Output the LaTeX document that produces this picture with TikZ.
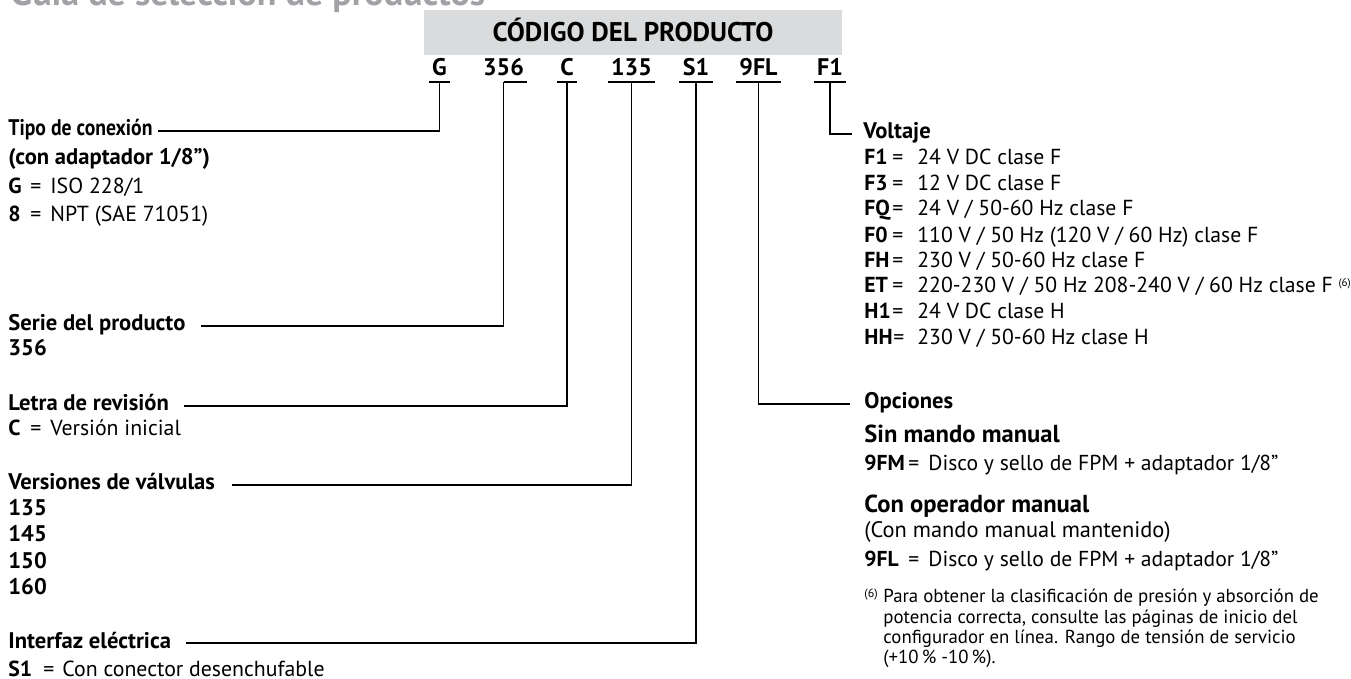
\documentclass[tikz,border=0pt]{standalone}
\usepackage{fontspec}
\setmainfont{PT Sans}
\newfontfamily\narrowfont{PT Sans}[FakeStretch=0.87]
\usepackage{xcolor}
\usepackage{tikz}
\usetikzlibrary{positioning}
\definecolor{titlegray}{HTML}{A0A2A5}
\definecolor{boxgray}{HTML}{D9DBDC}
% code, "=" and text at fixed offsets
\newcommand{\coditem}[4]{\rlap{\bfseries #3}\hspace{#1}\rlap{=}\hspace{#2}#4}
\tikzset{
  pagetitle/.style={
    anchor=base west, inner sep=0pt, text=titlegray,
    font=\bfseries\fontsize{18}{21}\selectfont
  },
  hdrbox/.style={
    rectangle, fill=boxgray, inner sep=0pt,
    minimum width=209pt, minimum height=22.5pt,
    text height=9pt, text depth=0pt,
    font=\bfseries\fontsize{13.5}{16}\selectfont
  },
  codepart/.style={
    anchor=base, inner xsep=1.5pt, inner ysep=3pt, text depth=0pt,
    font=\bfseries\fontsize{12}{14}\selectfont
  },
  heading/.style={
    anchor=base west, inner sep=0pt,
    font=\bfseries\fontsize{11.3}{13}\selectfont
  },
  item/.style={
    anchor=base west, inner sep=0pt,
    font=\fontsize{10.9}{13}\selectfont
  },
  vitem/.style={
    anchor=base west, inner sep=0pt,
    font=\fontsize{10.85}{12}\selectfont
  },
  oitem/.style={
    anchor=base west, inner sep=0pt,
    font=\fontsize{10.8}{13}\selectfont
  },
  note/.style={
    anchor=base west, inner sep=0pt,
    font=\fontsize{9.4}{11}\selectfont
  },
  line/.style={draw, line width=0.75pt},
  underline/.style={draw, line width=1pt},
}
\begin{document}
\begin{tikzpicture}[x=0.5pt, y=-0.5pt]
  \useasboundingbox (0,0) rectangle (1351,679);

  % Title and code header
  \node[pagetitle] (guide) at (10,6) {Guía de selección de productos};
  \node[hdrbox] (hdr) at (633,32.5) {CÓDIGO DEL PRODUCTO};

  \node[codepart] (cG)   at (439.5,76) {G};
  \node[codepart] (c356) at (503.5,76) {356};
  \node[codepart] (cC)   at (567,76)   {C};
  \node[codepart] (c135) at (631.5,76) {135};
  \node[codepart] (cS1)  at (696,76)   {S1};
  \node[codepart] (c9FL) at (758.5,76) {9FL};
  \node[codepart] (cF1)  at (830,76)   {F1};

  % Left column
  \node[heading, font=\narrowfont\bfseries\fontsize{11.3}{13}\selectfont]
    (tipo) at (8,136) {Tipo de conexión};
  \node[heading] (tipob) at (8,165) {(con adaptador 1/8”)};
  \node[item] (tipoG) at (8,194) {\coditem{11pt}{10pt}{G}{ISO 228/1}};
  \node[item] (tipo8) at (8,222) {\coditem{11pt}{10pt}{8}{NPT (SAE 71051)}};

  \node[heading] (serie)  at (8,331) {Serie del producto};
  \node[heading] (serieb) at (8,356) {356};

  \node[heading] (letra) at (8,411) {Letra de revisión};
  \node[item] (letraC)   at (8,436) {\coditem{11pt}{10pt}{C}{Versión inicial}};

  \node[heading] (vers)  at (8,490) {Versiones de válvulas};
  \node[heading] (v135)  at (8,516) {135};
  \node[heading] (v145)  at (8,542) {145};
  \node[heading] (v150)  at (8,568) {150};
  \node[heading] (v160)  at (8,595) {160};

  \node[heading] (interfaz) at (8,648) {Interfaz eléctrica};
  \node[item] (interfazS1)  at (8,676) {\coditem{17.5pt}{9.5pt}{S1}{Con conector desenchufable}};

  % Right column
  \node[heading] (volt) at (863,139) {Voltaje};
  \node[vitem] (vF1) at (864,165) {\coditem{14pt}{12.5pt}{F1}{24 V DC clase F}};
  \node[vitem] (vF3) at (864,191) {\coditem{14pt}{12.5pt}{F3}{12 V DC clase F}};
  \node[vitem] (vFQ) at (864,216) {\coditem{14pt}{12.5pt}{FQ}{24 V / 50-60 Hz clase F}};
  \node[vitem] (vF0) at (864,243) {\coditem{14pt}{12.5pt}{F0}{110 V / 50 Hz (120 V / 60 Hz) clase F}};
  \node[vitem] (vFH) at (864,268) {\coditem{14pt}{12.5pt}{FH}{230 V / 50-60 Hz clase F}};
  \node[vitem] (vET) at (864,293) {\coditem{14pt}{12.5pt}{ET}{220-230 V / 50 Hz 208-240 V / 60 Hz clase F {\fontsize{5.5}{6}\selectfont\raisebox{3pt}{(6)}}}};
  \node[vitem] (vH1) at (864,319) {\coditem{14pt}{12.5pt}{H1}{24 V DC clase H}};
  \node[vitem] (vHH) at (864,345) {\coditem{14.5pt}{12pt}{HH}{230 V / 50-60 Hz clase H}};

  \node[heading] (opc)  at (864,409) {Opciones};
  \node[heading, font=\bfseries\fontsize{12.3}{14}\selectfont]
    (sinm) at (864,443) {Sin mando manual};
  \node[oitem] (o9FM)   at (864,471) {\coditem{22pt}{10pt}{9FM}{Disco y sello de FPM + adaptador 1/8”}};
  \node[heading, font=\bfseries\fontsize{12.3}{14}\selectfont]
    (conm) at (864,513) {Con operador manual};
  \node[oitem, font=\fontsize{11.2}{13}\selectfont]
    (conmb) at (864,538) {(Con mando manual mantenido)};
  \node[oitem] (o9FL)   at (864,567) {\coditem{22pt}{10pt}{9FL}{Disco y sello de FPM + adaptador 1/8”}};

  % Footnote
  \node[note, font=\fontsize{6}{7}\selectfont] (fnmark) at (864,597) {(6)};
  \node[note] (fn1) at (883,603) {Para obtener la clasificación de presión y absorción de};
  \node[note] (fn2) at (883,624) {potencia correcta, consulte las páginas de inicio del};
  \node[note] (fn3) at (883,643) {configurador en línea. Rango de tensión de servicio};
  \node[note] (fn4) at (883,663) {(+10\,\% -10\,\%).};

  % Underlines
  \draw[underline] (cG.south west) -- (cG.south east);
  \draw[underline] (c356.south) -- (c356.south east);
  \draw[underline] (cC.south west) -- (cC.south east);
  \draw[underline] (c135.south west) -- (c135.south east);
  \draw[underline] (cS1.south west) -- (cS1.south east);
  \draw[underline] (c9FL.south west) -- (c9FL.south east);
  \draw[underline] (cF1.south west) -- (cF1.south east);

  % Leader lines
  \draw[line] (cG.south) |- ([xshift=2.5pt]tipo.mid east);
  \draw[line] (c356.south) |- ([xshift=7.5pt]serie.mid east);
  \draw[line] (cC.south) |- ([xshift=7.5pt]letra.mid east);
  \draw[line] (c135.south) |- ([xshift=8.5pt]vers.mid east);
  \draw[line] (cS1.south) |- ([xshift=7.5pt]interfaz.mid east);
  \draw[line] (c9FL.south) |- ([xshift=-7pt]opc.mid west);
  \draw[line] (cF1.south) |- ([xshift=-5.5pt]volt.mid west);
\end{tikzpicture}
\end{document}
